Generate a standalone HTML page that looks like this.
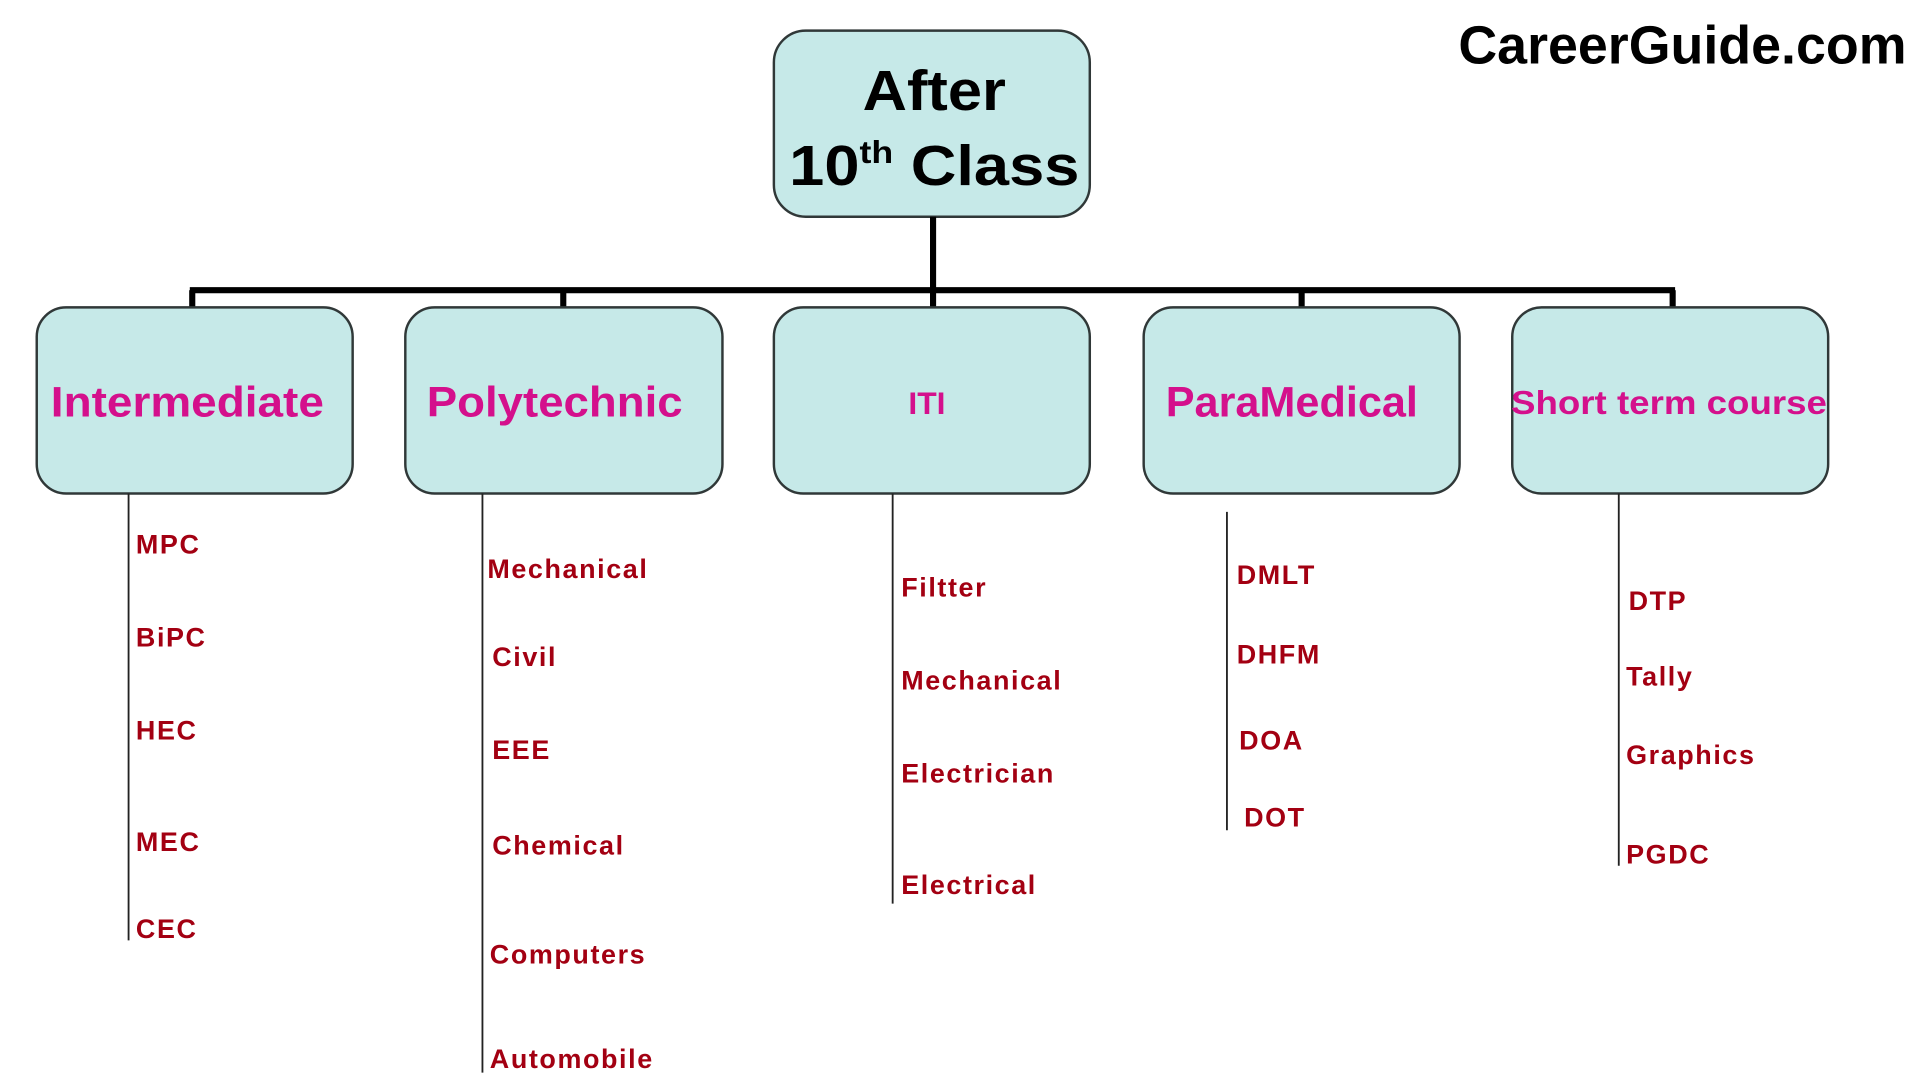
<!DOCTYPE html>
<html><head><meta charset="utf-8"><style>
html,body{margin:0;padding:0;background:#fff;width:1920px;height:1080px;overflow:hidden}
svg{display:block}
.b{fill:#c6e9e8;stroke:#303838;stroke-width:2}
.l{font-family:"Liberation Sans",sans-serif;font-weight:bold;fill:#d4108c;text-anchor:middle}
.i{font-family:"Liberation Sans",sans-serif;font-weight:bold;fill:#a30012;font-size:22px;letter-spacing:1.3px}
</style></head><body>
<svg width="1920" height="1080" viewBox="0 0 1568 882" preserveAspectRatio="none">
<rect class="b" x="632" y="25" width="258" height="152" rx="26"/>
<text x="763" y="90" font-family="Liberation Sans,sans-serif" font-weight="bold" font-size="46" text-anchor="middle" textLength="117" lengthAdjust="spacingAndGlyphs">After</text>
<text x="763" y="151" font-family="Liberation Sans,sans-serif" font-weight="bold" font-size="46" text-anchor="middle" textLength="237" lengthAdjust="spacingAndGlyphs">10<tspan font-size="26" dy="-18">th</tspan><tspan dy="18"> Class</tspan></text>
<text x="1374" y="52" font-family="Liberation Sans,sans-serif" font-weight="bold" font-size="44" text-anchor="middle" textLength="366" lengthAdjust="spacingAndGlyphs">CareerGuide.com</text>
<g stroke="#000" stroke-width="5" fill="none">
<line x1="762" y1="177" x2="762" y2="252"/>
<line x1="155" y1="237" x2="1368" y2="237"/>
<line x1="157" y1="237" x2="157" y2="252"/>
<line x1="460" y1="237" x2="460" y2="252"/>
<line x1="1063" y1="237" x2="1063" y2="252"/>
<line x1="1366" y1="237" x2="1366" y2="252"/>
</g>
<rect class="b" x="30" y="251" width="258" height="152" rx="24"/>
<rect class="b" x="331" y="251" width="259" height="152" rx="24"/>
<rect class="b" x="632" y="251" width="258" height="152" rx="24"/>
<rect class="b" x="934" y="251" width="258" height="152" rx="24"/>
<rect class="b" x="1235" y="251" width="258" height="152" rx="24"/>
<text class="l" x="153" y="340" font-size="35" textLength="223" lengthAdjust="spacingAndGlyphs">Intermediate</text>
<text class="l" x="453" y="340" font-size="35" textLength="209" lengthAdjust="spacingAndGlyphs">Polytechnic</text>
<text class="l" x="757" y="338" font-size="26" font-weight="normal">ITI</text>
<text class="l" x="1055" y="340" font-size="35" textLength="206" lengthAdjust="spacingAndGlyphs">ParaMedical</text>
<text class="l" x="1363" y="338" font-size="27" textLength="258" lengthAdjust="spacingAndGlyphs">Short term course</text>
<g stroke="#222" stroke-width="1.5">
<line x1="105" y1="403" x2="105" y2="768"/>
<line x1="394" y1="403" x2="394" y2="876"/>
<line x1="729" y1="403" x2="729" y2="738"/>
<line x1="1002" y1="418" x2="1002" y2="678"/>
<line x1="1322" y1="403" x2="1322" y2="707"/>
</g>
<text class="i" x="111" y="452">MPC</text>
<text class="i" x="111" y="528">BiPC</text>
<text class="i" x="111" y="604">HEC</text>
<text class="i" x="111" y="695">MEC</text>
<text class="i" x="111" y="766">CEC</text>
<text class="i" x="398" y="472">Mechanical</text>
<text class="i" x="402" y="544">Civil</text>
<text class="i" x="402" y="620">EEE</text>
<text class="i" x="402" y="698">Chemical</text>
<text class="i" x="400" y="787">Computers</text>
<text class="i" x="400" y="872">Automobile</text>
<text class="i" x="736" y="487">Filtter</text>
<text class="i" x="736" y="563">Mechanical</text>
<text class="i" x="736" y="639">Electrician</text>
<text class="i" x="736" y="730">Electrical</text>
<text class="i" x="1010" y="477">DMLT</text>
<text class="i" x="1010" y="542">DHFM</text>
<text class="i" x="1012" y="612">DOA</text>
<text class="i" x="1016" y="675">DOT</text>
<text class="i" x="1330" y="498">DTP</text>
<text class="i" x="1328" y="560">Tally</text>
<text class="i" x="1328" y="624">Graphics</text>
<text class="i" x="1328" y="705">PGDC</text>
</svg>
</body></html>
